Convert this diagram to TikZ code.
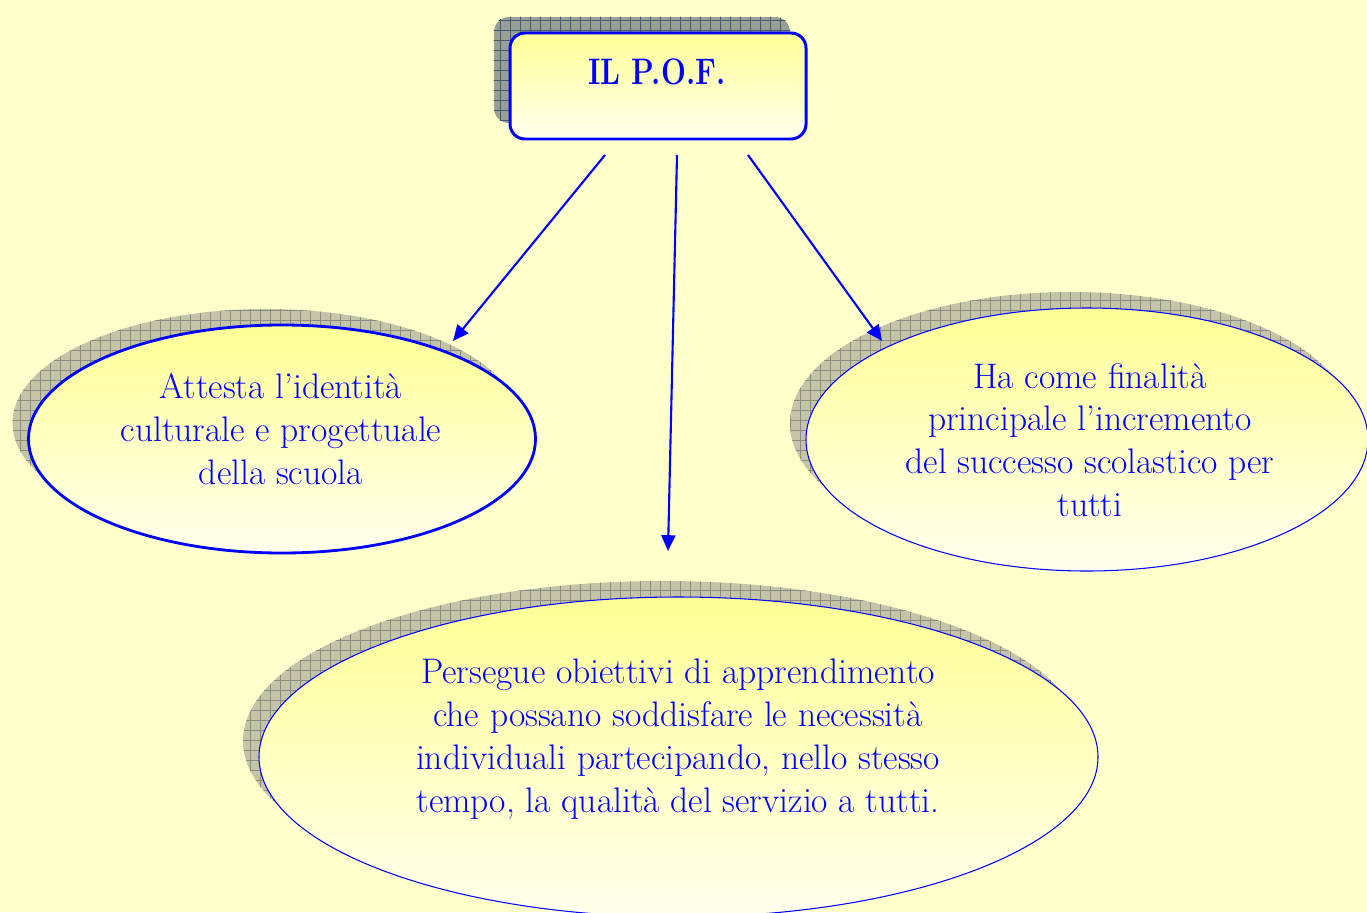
\documentclass[tikz,border=0pt]{standalone}
\usetikzlibrary{arrows.meta,shapes.geometric}
\definecolor{bg}{RGB}{255,255,204}
\definecolor{txtblue}{RGB}{0,0,255}
\definecolor{shadowfill}{RGB}{196,196,168}
\definecolor{shadowgrid}{RGB}{140,140,130}
\definecolor{boxshadow}{RGB}{150,160,150}
\definecolor{boxgrid}{RGB}{70,90,110}
\definecolor{topyellow}{RGB}{255,255,150}
\definecolor{botyellow}{RGB}{255,255,238}
\tikzset{
  shadowell/.style={ellipse, inner sep=0pt, fill=shadowfill},
  mainell/.style={ellipse, inner sep=0pt, draw=txtblue, top color=topyellow, bottom color=botyellow},
  bodytext/.style={text=txtblue, align=center, font=\fontsize{20.2}{24.4}\selectfont},
  conn/.style={draw=txtblue, line width=1.2pt, -{Triangle[length=9pt,width=8pt]}},
}
\begin{document}
\begin{tikzpicture}
\useasboundingbox (0,0) rectangle (27.34,-18.24);
\fill[bg] (0,0) rectangle (27.34,-18.24);

% top box shadow
\node[rounded corners=0.3cm, fill=boxshadow, minimum width=5.92cm, minimum height=2.12cm, inner sep=0pt] (pofshadow) at (12.84,-1.4) {};
\begin{scope}
\clip[rounded corners=0.3cm] (pofshadow.south west) rectangle (pofshadow.north east);
\draw[boxgrid, line width=0.4pt] (9.8,-0.2) grid[step=0.2] (16,-2.6);
\end{scope}

% ellipse shadows
\node[shadowell, minimum width=10.14cm, minimum height=4.56cm] (lshadow) at (5.32,-8.46) {};
\node[shadowell, minimum width=11.24cm, minimum height=5.26cm] (rshadow) at (21.42,-8.47) {};
\node[shadowell, minimum width=16.78cm, minimum height=6.4cm] (bshadow) at (13.25,-14.82) {};
\begin{scope}
\clip (5.32,-8.46) ellipse[x radius=5.07cm, y radius=2.28cm];
\draw[shadowgrid, line width=0.3pt] (0,-5.5) grid[step=0.2] (11,-11.5);
\end{scope}
\begin{scope}
\clip (21.42,-8.47) ellipse[x radius=5.62cm, y radius=2.63cm];
\draw[shadowgrid, line width=0.3pt] (15.6,-5.6) grid[step=0.2] (27.4,-11.4);
\end{scope}
\begin{scope}
\clip (13.25,-14.82) ellipse[x radius=8.39cm, y radius=3.2cm];
\draw[shadowgrid, line width=0.3pt] (4.6,-11.4) grid[step=0.2] (22,-18.4);
\end{scope}

% main shapes
\node[rounded corners=0.3cm, draw=txtblue, line width=1.7pt, top color=topyellow, bottom color=botyellow, minimum width=5.92cm, minimum height=2.12cm, inner sep=0pt] (pof) at (13.16,-1.72) {};
\node[text=txtblue, font=\fontsize{21}{24}\selectfont\bfseries] (poftext) at (13.14,-1.44) {\scalebox{0.8}[1]{IL P.O.F.}};

\node[mainell, line width=1.6pt, minimum width=10.14cm, minimum height=4.56cm] (left) at (5.64,-8.78) {};
\node[mainell, line width=0.6pt, minimum width=11.24cm, minimum height=5.26cm] (right) at (21.74,-8.79) {};
\node[mainell, line width=0.6pt, minimum width=16.78cm, minimum height=6.4cm] (bottom) at (13.57,-15.14) {};

\node[bodytext] (lefttext) at (5.62,-8.58) {Attesta l’identità\\culturale e progettuale\\della scuola};
\node[bodytext] (righttext) at (21.8,-8.8) {Ha come finalità\\principale l’incremento\\del successo scolastico per\\tutti};
\node[bodytext] (bottomtext) at (13.56,-14.78) {Persegue obiettivi di apprendimento\\che possano soddisfare le necessità\\individuali partecipando, nello stesso\\tempo, la qualità del servizio a tutti.};

% connectors
\coordinate (s1) at (12.1,-3.1);
\coordinate (e1) at (9.06,-6.82);
\coordinate (s2) at (13.54,-3.1);
\coordinate (e2) at (13.36,-11.02);
\coordinate (s3) at (14.96,-3.1);
\coordinate (e3) at (17.64,-6.82);
\draw[conn] (s1) -- (e1);
\draw[conn] (s2) -- (e2);
\draw[conn] (s3) -- (e3);
\end{tikzpicture}
\end{document}
